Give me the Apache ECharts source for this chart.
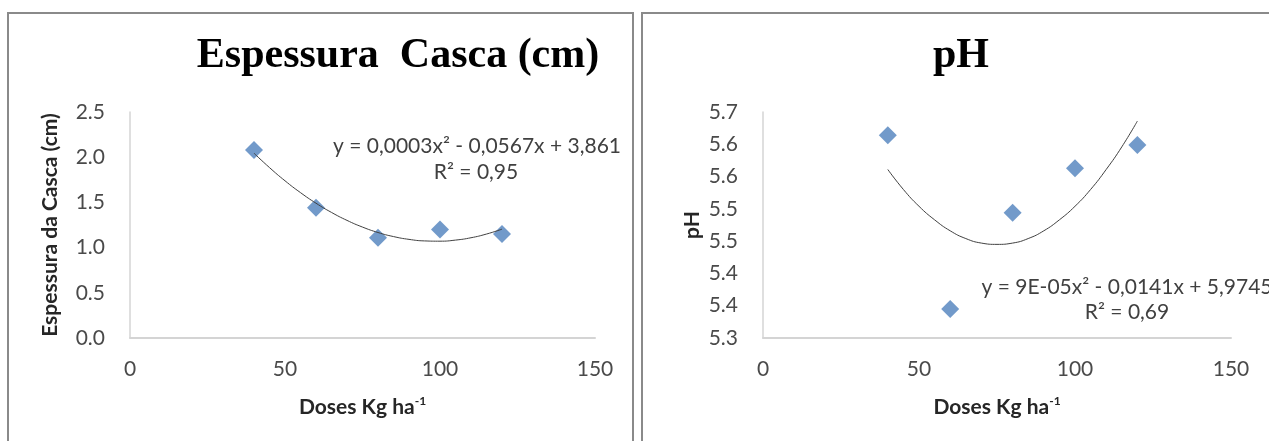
<!DOCTYPE html>
<html>
<head>
<meta charset="utf-8">
<script src="https://cdn.jsdelivr.net/npm/echarts@6/dist/echarts.min.js"></script>
<style>
  html, body { margin: 0; padding: 0; background: #fff; }
  #chart { width: 1269px; height: 441px; }
</style>
</head>
<body>
<div id="chart"></div>
<script>
// doses (Kg ha-1)
var doses = [40, 60, 80, 100, 120];
// shell thickness (cm) and pH
var shellValues = [2.08, 1.44, 1.11, 1.20, 1.15];
var phValues = [5.614, 5.345, 5.494, 5.563, 5.599];

// trend curves, every 5 units
var trendX = [40, 45, 50, 55, 60, 65, 70, 75, 80, 85, 90, 95, 100, 105, 110, 115, 120];
var shellTrend = [2.044, 1.885, 1.739, 1.608, 1.491, 1.389, 1.301, 1.227, 1.167,
                  1.122, 1.091, 1.074, 1.071, 1.083, 1.109, 1.150, 1.204];
var phTrend = [5.561, 5.530, 5.504, 5.483, 5.466, 5.454, 5.447, 5.445, 5.447,
               5.454, 5.466, 5.483, 5.504, 5.530, 5.561, 5.596, 5.636];

// tick labels
var xTickLabels = ['0', '50', '100', '150'];
var shellTickLabels = ['0.0', '0.5', '1.0', '1.5', '2.0', '2.5'];
var phTickLabels = ['5.3', '5.4', '5.4', '5.5', '5.5', '5.6', '5.6', '5.7'];

var shellEquation = ['y = 0,0003x\u00B2 - 0,0567x + 3,861', 'R\u00B2 = 0,95'];
var phEquation = ['y = 9E-05x\u00B2 - 0,0141x + 5,9745', 'R\u00B2 = 0,69'];

var sansFont = 'Lato, "Open Sans", sans-serif';
var blue = '#4f81bd';

function pairs(xs, ys) {
  return xs.map(function(x, i) { return [x, ys[i]]; });
}

function xAxisFor(gridIndex) {
  return {
    type: 'value',
    gridIndex: gridIndex,
    min: 0,
    max: 150,
    interval: 50,
    name: '{a|Doses Kg ha}{s|-1}',
    nameLocation: 'middle',
    nameGap: 57,
    nameTextStyle: {
      rich: {
        a: { fontFamily: sansFont, fontWeight: 'bold', fontSize: 21, color: '#262626', lineHeight: 24 },
        s: { fontFamily: sansFont, fontWeight: 'bold', fontSize: 12, color: '#262626', verticalAlign: 'top', lineHeight: 24 }
      }
    },
    axisLine: { show: true, onZero: false, lineStyle: { color: '#d4d4d4', width: 2 } },
    axisTick: { show: false },
    splitLine: { show: false },
    axisLabel: {
      margin: 21,
      fontFamily: sansFont,
      fontSize: 21,
      color: '#4a4a4a',
      formatter: function(v) { return xTickLabels[Math.round(v / 50)]; }
    }
  };
}

function yAxisStyle(name, gap, labels, min, step) {
  return {
    name: name,
    nameLocation: 'middle',
    nameRotate: 90,
    nameGap: gap,
    nameTextStyle: { fontFamily: sansFont, fontWeight: 'bold', fontSize: 21, color: '#262626' },
    axisLine: { show: true, lineStyle: { color: '#d4d4d4', width: 1.5 } },
    axisTick: { show: false },
    splitLine: { show: false },
    axisLabel: {
      margin: 25,
      fontFamily: sansFont,
      fontSize: 21,
      color: '#4a4a4a',
      formatter: function(v) { return labels[Math.round((v - min) / step)]; }
    }
  };
}

var myChart = echarts.init(document.getElementById('chart'));

var yShell = yAxisStyle('Espessura da Casca (cm)', 69, shellTickLabels, 0, 0.5);
yShell.type = 'value';
yShell.gridIndex = 0;
yShell.min = 0;
yShell.max = 2.5;
yShell.interval = 0.5;

var yPh = yAxisStyle('pH', 60, phTickLabels, 5.3, 0.05);
yPh.type = 'value';
yPh.gridIndex = 1;
yPh.min = 5.3;
yPh.max = 5.65;
yPh.interval = 0.05;

myChart.setOption({
  backgroundColor: '#fff',
  animation: false,
  title: [
    {
      text: 'Espessura  Casca (cm)',
      left: 398,
      top: 35,
      padding: 0,
      textAlign: 'center',
      textStyle: { fontFamily: '"Liberation Serif", serif', fontWeight: 'bold', fontSize: 42, color: '#000' }
    },
    {
      text: 'pH',
      left: 961,
      top: 35,
      padding: 0,
      textAlign: 'center',
      textStyle: { fontFamily: '"Liberation Serif", serif', fontWeight: 'bold', fontSize: 42, color: '#000' }
    }
  ],
  grid: [
    { left: 130, top: 112, width: 465, height: 226 },
    { left: 763, top: 112, width: 468, height: 226 }
  ],
  xAxis: [xAxisFor(0), xAxisFor(1)],
  yAxis: [yShell, yPh],
  graphic: [
    // panel frames
    { type: 'rect', shape: { x: 8, y: 13, width: 625, height: 440 }, style: { fill: null, stroke: '#8a8a8a', lineWidth: 2 }, z: -1 },
    { type: 'rect', shape: { x: 642, y: 13, width: 640, height: 440 }, style: { fill: null, stroke: '#8a8a8a', lineWidth: 2 }, z: -1 },
    // trendline equations
    { type: 'text', x: 477, y: 146, style: { text: shellEquation[0], align: 'center', verticalAlign: 'middle', fontFamily: sansFont, fontSize: 21, fill: '#404040' } },
    { type: 'text', x: 476, y: 172, style: { text: shellEquation[1], align: 'center', verticalAlign: 'middle', fontFamily: sansFont, fontSize: 21, fill: '#404040' } },
    { type: 'text', x: 1127, y: 287, style: { text: phEquation[0], align: 'center', verticalAlign: 'middle', fontFamily: sansFont, fontSize: 21, fill: '#404040' } },
    { type: 'text', x: 1127, y: 312, style: { text: phEquation[1], align: 'center', verticalAlign: 'middle', fontFamily: sansFont, fontSize: 21, fill: '#404040' } }
  ],
  series: [
    {
      name: 'Espessura',
      type: 'scatter',
      xAxisIndex: 0,
      yAxisIndex: 0,
      symbol: 'diamond',
      symbolSize: 18,
      itemStyle: { color: blue },
      data: pairs(doses, shellValues)
    },
    {
      name: 'Espessura trend',
      type: 'line',
      xAxisIndex: 0,
      yAxisIndex: 0,
      smooth: true,
      showSymbol: false,
      z: 3,
      lineStyle: { color: '#404040', width: 1 },
      data: pairs(trendX, shellTrend)
    },
    {
      name: 'pH',
      type: 'scatter',
      xAxisIndex: 1,
      yAxisIndex: 1,
      symbol: 'diamond',
      symbolSize: 18,
      itemStyle: { color: blue },
      data: pairs(doses, phValues)
    },
    {
      name: 'pH trend',
      type: 'line',
      xAxisIndex: 1,
      yAxisIndex: 1,
      smooth: true,
      showSymbol: false,
      z: 3,
      lineStyle: { color: '#404040', width: 1 },
      data: pairs(trendX, phTrend)
    }
  ]
});
</script>
</body>
</html>
